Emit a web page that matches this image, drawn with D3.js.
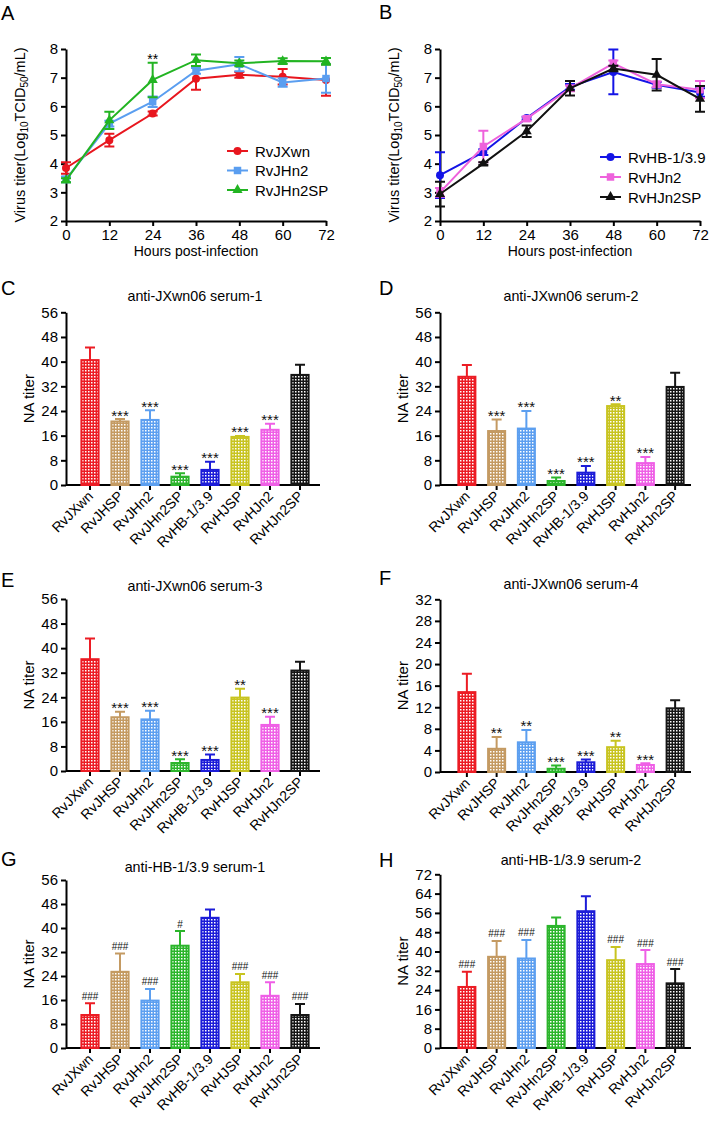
<!DOCTYPE html>
<html><head><meta charset="utf-8">
<script src="https://cdn.jsdelivr.net/npm/d3@7"></script>
<style>body{margin:0;background:#fff;} svg{display:block;}</style>
</head><body>
<svg id="fig" width="709" height="1122"></svg>
<script>
const FONT = '"Liberation Sans", Arial, sans-serif';
// ---------- data ----------
const hours = [0, 12, 24, 36, 48, 60, 72];
const titerTicks = [2, 3, 4, 5, 6, 7, 8];

const rvJXwnMean   = [3.85, 4.82, 5.75, 6.96, 7.10, 7.03, 6.92];
const rvJXwnSD     = [0.20, 0.22, 0.07, 0.38, 0.10, 0.27, 0.55];
const rvJHn2Mean   = [3.45, 5.40, 6.16, 7.24, 7.47, 6.83, 6.97];
const rvJHn2SD     = [0.10, 0.10, 0.18, 0.10, 0.25, 0.15, 0.50];
const rvJHn2SPMean = [3.42, 5.51, 6.92, 7.61, 7.50, 7.58, 7.57];
const rvJHn2SPSD   = [0.07, 0.30, 0.60, 0.20, 0.10, 0.10, 0.12];

const rvHBMean     = [3.60, 4.40, 5.59, 6.68, 7.20, 6.75, 6.48];
const rvHBSD       = [0.80, 0.10, 0.05, 0.10, 0.78, 0.10, 0.15];
const rvHJn2Mean   = [3.00, 4.60, 5.57, 6.63, 7.50, 6.77, 6.58];
const rvHJn2SD     = [0.15, 0.55, 0.07, 0.10, 0.10, 0.10, 0.30];
const rvHJn2SPMean = [2.94, 4.00, 5.13, 6.63, 7.32, 7.10, 6.26];
const rvHJn2SPSD   = [0.43, 0.05, 0.20, 0.25, 0.10, 0.55, 0.45];

const viruses = ["RvJXwn", "RvJHSP", "RvJHn2", "RvJHn2SP", "RvHB-1/3.9", "RvHJSP", "RvHJn2", "RvHJn2SP"];
const barColors = ["#ec1c24", "#c49a62", "#5c9ff0", "#2bb52b", "#1c1cd8", "#c8c420", "#ef5fe6", "#151515"];

const ticks56 = [0, 8, 16, 24, 32, 40, 48, 56];
const ticks32 = [0, 4, 8, 12, 16, 20, 24, 28, 32];
const ticks72 = [0, 8, 16, 24, 32, 40, 48, 56, 64, 72];

const cMean = [40.5, 20.6, 21.1, 2.7, 4.9, 15.6, 17.9, 35.7];
const cErr  = [4.1, 0.8, 3.1, 1.1, 2.6, 0.3, 2.0, 3.3];
const cSig  = ["", "***", "***", "***", "***", "***", "***", ""];
const dMean = [35.1, 17.5, 18.3, 1.3, 4.0, 25.6, 7.1, 31.8];
const dErr  = [3.8, 3.7, 5.7, 1.1, 2.2, 0.6, 2.0, 4.6];
const dSig  = ["", "***", "***", "***", "***", "**", "***", ""];
const eMean = [36.4, 17.5, 16.8, 2.6, 3.6, 23.9, 15.0, 32.7];
const eErr  = [6.7, 1.8, 2.8, 1.2, 1.8, 2.9, 2.7, 2.9];
const eSig  = ["", "***", "***", "***", "***", "**", "***", ""];
const fMean = [14.8, 4.3, 5.5, 0.6, 1.8, 4.6, 1.3, 11.8];
const fErr  = [3.4, 2.2, 2.3, 0.6, 0.5, 1.2, 0.3, 1.5];
const fSig  = ["", "**", "**", "***", "***", "**", "***", ""];
const gMean = [11.0, 25.4, 15.8, 34.1, 43.4, 21.9, 17.4, 11.0];
const gErr  = [3.9, 6.1, 3.9, 4.9, 2.8, 2.8, 4.5, 3.7];
const gSig  = ["###", "###", "###", "#", "", "###", "###", "###"];
const hMean = [25.3, 37.8, 37.1, 50.6, 56.7, 36.4, 34.8, 26.8];
const hErr  = [6.3, 6.6, 7.7, 3.5, 6.2, 5.5, 5.8, 5.9];
const hSig  = ["###", "###", "###", "", "", "###", "###", "###"];

// ---------- drawing ----------
const svg = d3.select('#fig');
svg.append('rect').attr('width', 709).attr('height', 1122).attr('fill', '#fff');
const defs = svg.append('defs');
barColors.forEach((c, i) => {
  const p = defs.append('pattern').attr('id', 'pat' + i).attr('patternUnits', 'userSpaceOnUse')
    .attr('width', 3).attr('height', 3);
  p.append('rect').attr('width', 3).attr('height', 3).attr('fill', c);
  p.append('rect').attr('x', 1).attr('y', 1).attr('width', 1.5).attr('height', 1.5).attr('fill', '#fff');
});

function styleAxis(g, fs) {
  g.selectAll('path.domain').attr('stroke', '#000').attr('stroke-width', 2);
  g.selectAll('.tick line').attr('stroke', '#000').attr('stroke-width', 2);
  g.selectAll('text').attr('font-size', fs).attr('font-family', FONT).attr('fill', '#000');
}

function letter(t, x, y) {
  svg.append('text').attr('x', x).attr('y', y).attr('font-family', FONT).attr('font-size', 20).text(t);
}

function linePanel(cfg) {
  const g = svg.append('g');
  const x = d3.scaleLinear().domain([0, 72]).range([cfg.x0, cfg.x0 + 260]);
  const y = d3.scaleLinear().domain([2, 8]).range([221, 49]);
  const xa = g.append('g').attr('transform', 'translate(0,221)')
    .call(d3.axisBottom(x).tickValues(hours).tickFormat(d3.format('d')).tickSize(5).tickSizeOuter(0).tickPadding(3));
  styleAxis(xa, 15);
  const ya = g.append('g').attr('transform', `translate(${cfg.x0},0)`)
    .call(d3.axisLeft(y).tickValues(titerTicks).tickFormat(d3.format('d')).tickSize(5).tickSizeOuter(0).tickPadding(3));
  styleAxis(ya, 15);
  g.append('text').attr('x', cfg.x0 + 130).attr('y', 256).attr('text-anchor', 'middle')
    .attr('font-family', FONT).attr('font-size', 14).text('Hours post-infection');
  const yl = g.append('text').attr('transform', `translate(${cfg.x0 - 41},135) rotate(-90)`)
    .attr('text-anchor', 'middle').attr('font-family', FONT).attr('font-size', 14.5);
  yl.append('tspan').text('Virus titer(Log');
  yl.append('tspan').attr('font-size', 10).attr('dy', 3).text('10');
  yl.append('tspan').attr('dy', -3).text('TCID');
  yl.append('tspan').attr('font-size', 10).attr('dy', 3).text('50');
  yl.append('tspan').attr('dy', -3).text('/mL)');

  const line = d3.line().x(d => x(d.h)).y(d => y(d.m));
  cfg.series.forEach(s => {
    const pts = hours.map((h, i) => ({h, m: s.mean[i], e: s.sd[i]}));
    g.append('path').datum(pts).attr('d', line).attr('fill', 'none').attr('stroke', s.color).attr('stroke-width', 2);
    g.selectAll(null).data(pts).enter().append('path')
      .attr('d', d => `M${x(d.h)},${y(d.m - d.e)}V${y(d.m + d.e)}M${x(d.h) - 5},${y(d.m + d.e)}h10M${x(d.h) - 5},${y(d.m - d.e)}h10`)
      .attr('stroke', s.color).attr('stroke-width', 2).attr('fill', 'none');
    g.selectAll(null).data(pts).enter().append('path')
      .attr('transform', d => `translate(${x(d.h)},${y(d.m)})`)
      .attr('d', d3.symbol().type(s.symbol).size(s.size)).attr('fill', s.color);
  });
  // significance
  (cfg.sig || []).forEach(sg => {
    const s = cfg.series[sg.series];
    const i = hours.indexOf(sg.h);
    g.append('text').attr('x', x(sg.h)).attr('y', y(s.mean[i] + s.sd[i]) + 1).attr('text-anchor', 'middle')
      .attr('font-family', FONT).attr('font-size', 14).text(sg.label);
  });
  // legend
  cfg.series.forEach((s, i) => {
    const ly = cfg.ly[i];
    g.append('line').attr('x1', cfg.lx).attr('x2', cfg.lx + 21).attr('y1', ly).attr('y2', ly)
      .attr('stroke', s.color).attr('stroke-width', 2);
    g.append('path').attr('transform', `translate(${cfg.lx + 10.5},${ly})`)
      .attr('d', d3.symbol().type(s.symbol).size(s.size)).attr('fill', s.color);
    g.append('text').attr('x', cfg.lx + 28).attr('y', ly + 5.5).attr('font-family', FONT)
      .attr('font-size', 15).text(s.name);
  });
}

function barPanel(cfg) {
  const g = svg.append('g');
  const x = d3.scaleBand().domain(viruses).range(cfg.band).paddingInner(0.36).paddingOuter(0.18);
  const y = d3.scaleLinear().domain([0, cfg.ticks[cfg.ticks.length - 1]]).range([cfg.yBot, cfg.yTop]);
  const ya = g.append('g').attr('transform', `translate(${cfg.x0},0)`)
    .call(d3.axisLeft(y).tickValues(cfg.ticks).tickFormat(d3.format('d')).tickSize(5).tickSizeOuter(0).tickPadding(3));
  styleAxis(ya, 15);
  const xa = g.append('g').attr('transform', `translate(0,${cfg.yBot})`)
    .call(d3.axisBottom(x).tickSize(5).tickSizeOuter(0).tickFormat(''));
  xa.select('path.domain').remove();
  styleAxis(xa, 13);
  g.append('line').attr('x1', cfg.x0).attr('x2', cfg.xEnd).attr('y1', cfg.yBot).attr('y2', cfg.yBot)
    .attr('stroke', '#000').attr('stroke-width', 2);

  const data = viruses.map((v, i) => ({v, i, m: cfg.mean[i], e: cfg.err[i], s: cfg.sig[i]}));
  const bw = x.bandwidth();
  // error bars (upper only)
  g.selectAll(null).data(data).enter().append('path')
    .attr('d', d => {
      const cx = x(d.v) + bw / 2;
      return `M${cx},${y(d.m)}V${y(d.m + d.e)}M${cx - 5},${y(d.m + d.e)}h10`;
    })
    .attr('stroke', d => barColors[d.i]).attr('stroke-width', 2).attr('fill', 'none');
  g.selectAll(null).data(data).enter().append('rect')
    .attr('x', d => x(d.v) + 1).attr('width', bw - 2)
    .attr('y', d => y(d.m)).attr('height', d => cfg.yBot - y(d.m))
    .attr('fill', d => `url(#pat${d.i})`).attr('stroke', d => barColors[d.i]).attr('stroke-width', 2);
  // significance
  g.selectAll(null).data(data.filter(d => d.s)).enter().append('text')
    .attr('x', d => x(d.v) + bw / 2)
    .attr('y', d => y(d.m + d.e) + (d.s[0] === '*' ? 1.5 : -3.5))
    .attr('text-anchor', 'middle').attr('font-family', FONT)
    .attr('font-size', d => d.s[0] === '*' ? 15 : 10).attr('fill', '#111').text(d => d.s);
  // category labels
  g.selectAll(null).data(data).enter().append('text')
    .attr('transform', d => `translate(${x(d.v) + bw / 2 + 4},${cfg.yBot + 12}) rotate(-45)`)
    .attr('text-anchor', 'end').attr('font-family', FONT).attr('font-size', 14).text(d => d.v);
  // title and y label
  g.append('text').attr('x', (cfg.band[0] + cfg.band[1]) / 2).attr('y', cfg.titleY).attr('text-anchor', 'middle')
    .attr('font-family', FONT).attr('font-size', 14.3).text(cfg.title);
  g.append('text').attr('transform', `translate(${cfg.x0 - 32},${(cfg.yBot + cfg.yTop) / 2}) rotate(-90)`)
    .attr('text-anchor', 'middle').attr('font-family', FONT).attr('font-size', 15).text('NA titer');
}

// Panels A & B
letter('A', 1, 20);
linePanel({
  x0: 66, lx: 227, ly: [151, 170.5, 190],
  series: [
    {name: 'RvJXwn', color: '#e8161e', mean: rvJXwnMean, sd: rvJXwnSD, symbol: d3.symbolCircle, size: 50},
    {name: 'RvJHn2', color: '#5a9ef0', mean: rvJHn2Mean, sd: rvJHn2SD, symbol: d3.symbolSquare, size: 56},
    {name: 'RvJHn2SP', color: '#22b422', mean: rvJHn2SPMean, sd: rvJHn2SPSD, symbol: d3.symbolTriangle, size: 45}
  ],
  sig: [{series: 2, h: 24, label: '**'}]
});
letter('B', 379, 19);
linePanel({
  x0: 440, lx: 600, ly: [157, 177, 197],
  series: [
    {name: 'RvHB-1/3.9', color: '#1414e6', mean: rvHBMean, sd: rvHBSD, symbol: d3.symbolCircle, size: 50},
    {name: 'RvHJn2', color: '#ee62dc', mean: rvHJn2Mean, sd: rvHJn2SD, symbol: d3.symbolSquare, size: 56},
    {name: 'RvHJn2SP', color: '#111111', mean: rvHJn2SPMean, sd: rvHJn2SPSD, symbol: d3.symbolTriangle, size: 45}
  ]
});

letter('C', 1, 295);
barPanel({x0: 66, xEnd: 320, band: [75, 315], yBot: 485, yTop: 312.3, ticks: ticks56,
  mean: cMean, err: cErr, sig: cSig, title: 'anti-JXwn06 serum-1', titleY: 301});
letter('D', 379, 295);
barPanel({x0: 440, xEnd: 691, band: [452, 690], yBot: 485, yTop: 312.3, ticks: ticks56,
  mean: dMean, err: dErr, sig: dSig, title: 'anti-JXwn06 serum-2', titleY: 301});
letter('E', 1, 587);
barPanel({x0: 66, xEnd: 320, band: [75, 315], yBot: 771, yTop: 599, ticks: ticks56,
  mean: eMean, err: eErr, sig: eSig, title: 'anti-JXwn06 serum-3', titleY: 591});
letter('F', 379, 585);
barPanel({x0: 440, xEnd: 691, band: [452, 690], yBot: 772, yTop: 599.3, ticks: ticks32,
  mean: fMean, err: fErr, sig: fSig, title: 'anti-JXwn06 serum-4', titleY: 589});
letter('G', 1, 866);
barPanel({x0: 66, xEnd: 320, band: [75, 315], yBot: 1048, yTop: 880, ticks: ticks56,
  mean: gMean, err: gErr, sig: gSig, title: 'anti-HB-1/3.9 serum-1', titleY: 872});
letter('H', 379, 867);
barPanel({x0: 440, xEnd: 691, band: [452, 690], yBot: 1048, yTop: 874.3, ticks: ticks72,
  mean: hMean, err: hErr, sig: hSig, title: 'anti-HB-1/3.9 serum-2', titleY: 865});
</script>
</body></html>
